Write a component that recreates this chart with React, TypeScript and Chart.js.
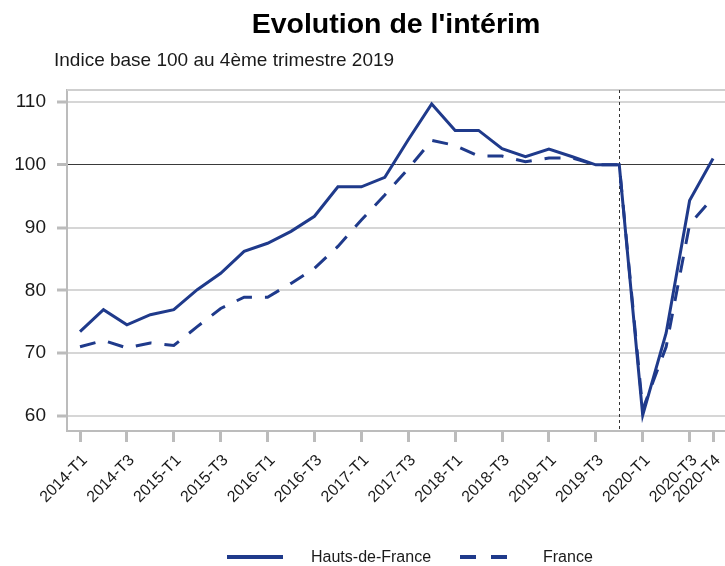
import React, { useEffect, useRef } from "react";
import { Chart, registerables } from "chart.js";

Chart.register(...registerables);

const categories = [
  "2014-T1", "2014-T2", "2014-T3", "2014-T4",
  "2015-T1", "2015-T2", "2015-T3", "2015-T4",
  "2016-T1", "2016-T2", "2016-T3", "2016-T4",
  "2017-T1", "2017-T2", "2017-T3", "2017-T4",
  "2018-T1", "2018-T2", "2018-T3", "2018-T4",
  "2019-T1", "2019-T2", "2019-T3", "2019-T4",
  "2020-T1", "2020-T2", "2020-T3", "2020-T4",
];

const hautsDeFrance = [
  73.4, 76.9, 74.5, 76.1, 76.9, 80.1, 82.7, 86.2, 87.5, 89.4, 91.8, 96.5, 96.5, 98.0,
  104.0, 109.7, 105.5, 105.5, 102.6, 101.3, 102.5, 101.3, 100.0, 100.0, 60.1, 73.2, 94.3, 101.0,
];

const france = [
  71.0, 72.0, 70.8, 71.6, 71.2, 74.2, 77.1, 78.9, 78.9, 81.1, 83.5, 87.0, 91.2, 95.2,
  99.4, 103.9, 103.1, 101.4, 101.4, 100.5, 101.1, 101.1, 100.0, 100.0, 61.0, 71.0, 90.5, 94.8,
];

const xTickLabels = [
  "2014-T1", "2014-T3", "2015-T1", "2015-T3", "2016-T1", "2016-T3", "2017-T1",
  "2017-T3", "2018-T1", "2018-T3", "2019-T1", "2019-T3", "2020-T1", "2020-T3", "2020-T4",
];

const yTicks = [60, 70, 80, 90, 100, 110];
const seriesNames = ["Hauts-de-France", "France"];
const title = "Evolution de l'intérim";
const subtitle = "Indice base 100 au 4ème trimestre 2019";
const markerCategory = "2019-T4";
const baseValue = 100;

const FONT = "'Liberation Sans', Arial, sans-serif";
const BLUE = "#1f3a8b";
const AXIS_GRAY = "#bcbcbc";
const TEXT = "#1a1a1a";

export default function App() {
  const ref = useRef<HTMLCanvasElement | null>(null);

  useEffect(() => {
    const canvas = ref.current;
    if (!canvas) return;

    const decorPlugin = {
      id: "decor",
      beforeDatasetsDraw(chart: any) {
        const { ctx, chartArea, scales } = chart;
        ctx.save();
        ctx.strokeStyle = "#cfcfcf";
        ctx.lineWidth = 2;
        ctx.beginPath();
        ctx.moveTo(chartArea.left, chartArea.top);
        ctx.lineTo(chartArea.right, chartArea.top);
        ctx.stroke();
        const xi = categories.indexOf(markerCategory);
        const px = Math.round(scales.x.getPixelForValue(xi)) + 0.5;
        ctx.strokeStyle = "#333333";
        ctx.lineWidth = 1;
        ctx.setLineDash([3, 3]);
        ctx.beginPath();
        ctx.moveTo(px, chartArea.top);
        ctx.lineTo(px, chartArea.bottom);
        ctx.stroke();
        ctx.restore();
      },
      afterDraw(chart: any) {
        const { ctx, chartArea } = chart;
        ctx.save();
        ctx.fillStyle = "#000";
        ctx.textBaseline = "alphabetic";
        ctx.font = `bold 28.5px ${FONT}`;
        ctx.textAlign = "center";
        ctx.fillText(title, (chartArea.left + chartArea.right) / 2, 33);
        ctx.font = `19px ${FONT}`;
        ctx.textAlign = "left";
        ctx.fillStyle = TEXT;
        ctx.fillText(subtitle, 54, 66);

        const ly = 557;
        ctx.strokeStyle = BLUE;
        ctx.lineWidth = 4;
        ctx.beginPath();
        ctx.moveTo(227, ly);
        ctx.lineTo(283, ly);
        ctx.stroke();
        ctx.setLineDash([16, 15]);
        ctx.beginPath();
        ctx.moveTo(460, ly);
        ctx.lineTo(507, ly);
        ctx.stroke();
        ctx.setLineDash([]);
        ctx.font = `16px ${FONT}`;
        ctx.fillStyle = TEXT;
        ctx.textBaseline = "middle";
        ctx.fillText(seriesNames[0], 311, ly + 1);
        ctx.fillText(seriesNames[1], 543, ly + 1);
        ctx.restore();
      },
    };

    const chart = new Chart(canvas, {
      type: "line",
      data: {
        datasets: [
          {
            label: seriesNames[0],
            data: categories.map((_, i) => ({ x: i, y: hautsDeFrance[i] })),
            borderColor: BLUE,
            backgroundColor: BLUE,
            borderWidth: 3,
            pointRadius: 0,
            tension: 0,
          },
          {
            label: seriesNames[1],
            data: categories.map((_, i) => ({ x: i, y: france[i] })),
            borderColor: BLUE,
            backgroundColor: BLUE,
            borderWidth: 3,
            borderDash: [16, 13],
            pointRadius: 0,
            tension: 0,
          },
        ],
      },
      plugins: [decorPlugin],
      options: {
        animation: false,
        responsive: false,
        devicePixelRatio: 1,
        layout: { padding: { top: 90, right: 0, left: 0, bottom: 0 } },
        plugins: {
          legend: { display: false },
          title: { display: false },
          tooltip: { enabled: false },
        },
        scales: {
          x: {
            type: "linear",
            min: -0.555,
            max: 27.51,
            afterBuildTicks: (scale: any) => {
              scale.ticks = xTickLabels.map((l) => ({ value: categories.indexOf(l) }));
            },
            afterFit: (scale: any) => {
              scale.height = 135;
              scale.paddingLeft = 0;
              scale.paddingRight = 0;
            },
            grid: {
              display: true,
              drawOnChartArea: false,
              drawTicks: true,
              tickLength: 11,
              tickColor: AXIS_GRAY,
              tickWidth: 3,
            },
            border: { display: true, color: AXIS_GRAY, width: 2 },
            ticks: {
              autoSkip: false,
              minRotation: 45,
              maxRotation: 45,
              padding: 9,
              labelOffset: 5,
              color: TEXT,
              font: { family: FONT, size: 16 },
              callback: (v: any) => categories[Math.round(Number(v))] ?? "",
            },
          },
          y: {
            type: "linear",
            min: 57.56,
            max: 111.94,
            afterBuildTicks: (scale: any) => {
              scale.ticks = yTicks.map((v) => ({ value: v }));
            },
            afterFit: (scale: any) => {
              scale.width = 67;
            },
            grid: {
              color: (c: any) => (c.tick && c.tick.value === baseValue ? "#3a3a3a" : "#d6d6d6"),
              lineWidth: (c: any) => (c.tick && c.tick.value === baseValue ? 1 : 2),
              drawTicks: true,
              tickLength: 10,
              tickColor: AXIS_GRAY,
              tickWidth: 3,
            },
            border: { display: true, color: AXIS_GRAY, width: 2 },
            ticks: {
              padding: 11,
              color: TEXT,
              font: { family: FONT, size: 19 },
            },
          },
        },
      },
    } as any);

    return () => chart.destroy();
  }, []);

  return (
    <div style={{ position: "fixed", left: 0, top: 0, width: 725, height: 566, background: "#fff" }}>
      <canvas ref={ref} width={725} height={566} style={{ width: 725, height: 566, display: "block" }} />
    </div>
  );
}
